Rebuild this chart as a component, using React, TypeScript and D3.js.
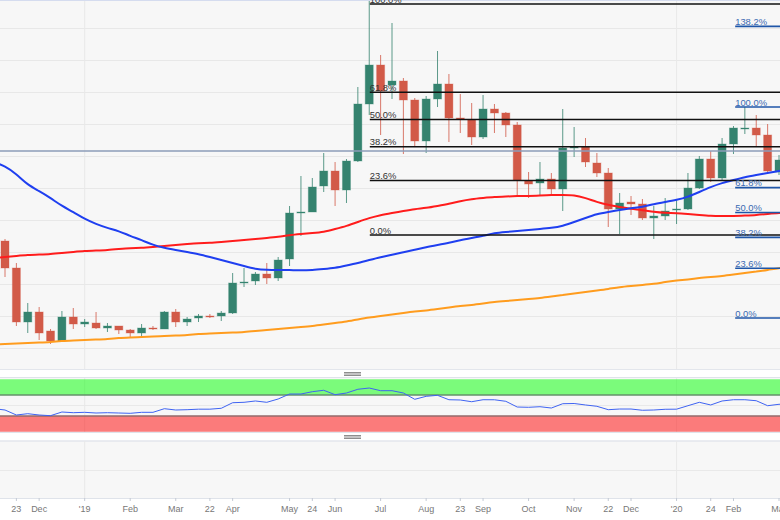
import * as d3 from "d3";

const WIDTH = 780;
const HEIGHT = 520;

// weekly candles, price units are nominal (the reference hides its y axis labels)
const opens = [159, 132, 78, 88, 69, 59, 83, 76, 77, 72, 74, 70, 67, 72, 71, 88, 78, 82, 84, 84, 87, 117, 119, 126, 122, 141, 187, 188, 214, 229, 210, 239, 296, 335, 315, 319, 300, 259, 301, 316, 282, 280, 263, 291, 287, 275, 219, 217, 221, 211, 252, 253, 237, 227, 191, 198, 196, 182, 184, 190, 191, 212, 241, 222, 256, 271, 272, 265, 228];
const closes = [132, 78, 88, 67, 59, 83, 76, 78, 72, 74, 70, 67, 72, 71, 88, 78, 81, 84, 83, 87, 117, 118, 126, 122, 140, 187, 188, 213, 229, 210, 239, 296, 335, 309, 319, 300, 259, 301, 316, 282, 281, 263, 291, 287, 275, 220, 216, 221, 211, 252, 253, 238, 227, 191, 197, 196, 182, 184, 189, 191, 212, 241, 222, 256, 272, 272, 265, 229, 240];
const highs = [161, 137, 97, 93, 71, 89, 92, 81, 88, 77, 74, 71, 76, 74, 89, 91, 83, 86, 86, 89, 127, 132, 128, 137, 143, 194, 224, 222, 247, 238, 241, 313, 399, 345, 377, 322, 302, 304, 349, 326, 306, 297, 305, 296, 288, 278, 228, 238, 227, 291, 273, 262, 247, 232, 207, 204, 201, 194, 202, 200, 227, 244, 249, 262, 274, 293, 285, 276, 245];
const lows = [123, 74, 67, 60, 56, 59, 71, 73, 71, 68, 66, 63, 63, 70, 71, 73, 74, 78, 82, 79, 86, 113, 115, 116, 119, 134, 164, 188, 208, 194, 197, 238, 285, 265, 301, 246, 253, 247, 293, 258, 267, 255, 261, 267, 263, 204, 202, 205, 206, 189, 243, 233, 223, 173, 166, 185, 180, 161, 180, 176, 190, 211, 218, 220, 246, 266, 254, 227, 225];

// moving averages and rsi, one reading per week; each starts one week before the
// first candle and ends one week after the last so the lines run off both edges
const sma50 = [238, 234, 226, 215, 209, 202, 194, 188, 181, 176, 172, 169, 164, 160, 155, 152, 150, 148, 146, 143, 140, 137, 134, 131, 130, 130, 130, 129.5, 130, 131, 132, 134.5, 137, 140, 143, 145, 148, 150, 153, 155, 157, 160, 162, 164, 167, 168, 169, 170, 171, 172, 174, 178, 182, 186, 188, 190, 192, 193, 196, 198, 200, 203, 208, 213, 217, 220, 223, 225, 227, 229, 231];
const sma100 = [142, 143, 144, 145, 145.5, 146, 147, 148, 149, 149.5, 150, 151, 152, 152, 153, 154, 155, 156, 157, 157, 158, 159, 160, 161, 162, 163, 165, 166, 167, 168, 171, 174, 178, 182, 185, 187, 189, 191, 192, 194, 196, 199, 201, 202, 203, 203.5, 204, 204, 204.5, 205, 205, 205, 202, 198, 195, 193, 191, 190, 188, 187, 187, 186, 185, 184, 184, 184, 184.5, 185, 186, 187, 187.5];
const sma200 = [55.5, 56, 56.5, 57, 57.5, 58, 59, 59.5, 60, 60.5, 61, 62, 62.5, 63, 63.5, 64, 64.5, 65, 66, 66.5, 67, 67.5, 68, 69, 70, 71, 72, 73, 74, 75.5, 77, 78.5, 80.5, 82.5, 84, 85.5, 87, 88.5, 89.5, 91, 92.5, 94, 95, 96.5, 98, 99, 100, 101, 102, 103.5, 105, 106.5, 108, 109.5, 111, 113, 114, 115, 116, 118, 119.5, 120.5, 122, 123, 124, 125.5, 127, 128.5, 130, 132, 133];
const rsi = [44, 41.4, 31.9, 34.4, 31.9, 30.6, 37.6, 36.3, 37, 35.7, 36.3, 35.7, 35.1, 37, 37, 43.9, 41.4, 42, 43, 43, 44.7, 55.3, 56.1, 58.6, 56.1, 62.4, 71.9, 71.9, 76.3, 79, 70.6, 73.8, 80.9, 83.3, 78.2, 78.2, 73.8, 61.8, 67.5, 69.4, 61, 60.5, 57.2, 61, 60.9, 58, 47.1, 46.6, 47.7, 45.2, 53.4, 53.8, 51, 48.5, 42, 43.3, 43.3, 40.9, 41.4, 42.8, 43, 49.6, 56.1, 51, 58.6, 61, 61, 59.1, 49.6, 52.3, 52.5];

const gridPrices = [52, 84, 116, 148, 180, 212, 244, 276, 308, 340, 372];
const lastPrice = 249;

const tickIndex = [1, 3, 7, 11, 15, 18, 20, 25, 27, 29, 33, 37, 40, 42, 46, 50, 53, 55, 59, 62, 64, 68];
const tickLabels = ["23", "Dec", "'19", "Feb", "Mar", "22", "Apr", "May", "24", "Jun", "Jul", "Aug", "23", "Sep", "Oct", "Nov", "22", "Dec", "'20", "24", "Feb", "Mar"];
const yearIndex = [7, 59];

// fibonacci sets: swing low, swing high and the week they start on
const fibLeft = { low: 165, high: 396, ratios: [1, 0.618, 0.5, 0.382, 0.236, 0], startIndex: 32.05 };
const fibRight = { low: 82, high: 293, ratios: [1.382, 1, 0.618, 0.5, 0.382, 0.236, 0], startIndex: 64.15 };

const UP = "#35836f";
const DOWN = "#d25a48";
const FONT = "'Liberation Sans', Arial, sans-serif";

const x = d3.scaleLinear().domain([0, 68]).range([5, 779]);
const y = d3.scaleLinear().domain([0, 400]).range([400, 0]);
const yRsi = d3.scaleLinear().domain([0, 100]).range([431.75, 379.25]);

const priceLine = d3
  .line<number>()
  .x((_, i) => x(i - 1))
  .y((d) => y(d))
  .curve(d3.curveBasis);

const rsiLine = d3
  .line<number>()
  .x((_, i) => x(i - 1))
  .y((d) => yRsi(d));

function FibSet({ set, color, label }: { set: typeof fibLeft; color: string; label: string }) {
  const left = x(set.startIndex);
  return (
    <g>
      {set.ratios.map((r) => {
        const py = y(set.low + (set.high - set.low) * r);
        return (
          <g key={r}>
            <line x1={left} x2={WIDTH} y1={py} y2={py} stroke={color} strokeWidth={1.6} />
            <text x={left} y={py - 1.5} fontSize={9.4} fill={label} fontFamily={FONT}>
              {(r * 100).toFixed(1)}%
            </text>
          </g>
        );
      })}
    </g>
  );
}

function Handle({ top }: { top: number }) {
  return (
    <g>
      <rect x={344} y={top} width={17} height={4} fill="#c4c4c4" />
      <line x1={344} x2={361} y1={top + 0.5} y2={top + 0.5} stroke="#8e8e8e" />
      <line x1={344} x2={361} y1={top + 3.5} y2={top + 3.5} stroke="#8e8e8e" />
    </g>
  );
}

export default function App() {
  return (
    <svg
      width={WIDTH}
      height={HEIGHT}
      style={{ position: "absolute", left: 0, top: 0, display: "block", background: "#fff" }}
    >
      {/* panels */}
      <rect x={0} y={0} width={WIDTH} height={370} fill="#f7f7f7" />
      <line x1={0} x2={WIDTH} y1={0.5} y2={0.5} stroke="#d5dcef" />
      <line x1={0} x2={WIDTH} y1={369.5} y2={369.5} stroke="#e3e6ec" />
      <rect x={0} y={378} width={WIDTH} height={55} fill="#f7f7f7" />
      <line x1={0} x2={WIDTH} y1={377.5} y2={377.5} stroke="#dfe3ea" />
      <rect x={0} y={441} width={WIDTH} height={57} fill="#f7f7f7" />
      <line x1={0} x2={WIDTH} y1={441} y2={441} stroke="#e3e6ec" strokeWidth={1.5} />
      <line x1={0} x2={WIDTH} y1={498.5} y2={498.5} stroke="#dfe3ea" />
      <line x1={0} x2={WIDTH} y1={470.5} y2={470.5} stroke="#e9e9e9" />
      <line x1={0} x2={WIDTH} y1={405.5} y2={405.5} stroke="#e9e9e9" />

      {/* grid */}
      {gridPrices.map((p) => (
        <line key={p} x1={0} x2={WIDTH} y1={y(p) + 0.5} y2={y(p) + 0.5} stroke="#e8e8e8" />
      ))}
      {yearIndex.map((i) => (
        <g key={i}>
          <line x1={x(i)} x2={x(i)} y1={1} y2={369} stroke="#e9e9e9" />
          <line x1={x(i)} x2={x(i)} y1={378} y2={432} stroke="#e9e9e9" />
          <line x1={x(i)} x2={x(i)} y1={441} y2={498} stroke="#e9e9e9" />
        </g>
      ))}

      {/* candles */}
      {opens.map((o, i) => {
        const c = closes[i];
        const color = c >= o ? UP : DOWN;
        const top = y(Math.max(o, c));
        const bottom = y(Math.min(o, c));
        return (
          <g key={i}>
            <line x1={x(i)} x2={x(i)} y1={y(highs[i])} y2={y(lows[i])} stroke={color} strokeWidth={1} opacity={0.8} />
            <rect
              x={x(i) - 4}
              y={top}
              width={8}
              height={Math.max(bottom - top, 1)}
              fill={color}
              stroke={color}
              strokeOpacity={0.35}
              strokeWidth={1}
            />
          </g>
        );
      })}

      {/* averages */}
      <path d={priceLine(sma200) || ""} fill="none" stroke="#ff9c1e" strokeWidth={2} />
      <path d={priceLine(sma100) || ""} fill="none" stroke="#ff1c1c" strokeWidth={2} />
      <path d={priceLine(sma50) || ""} fill="none" stroke="#1f3ff0" strokeWidth={2} />

      <line x1={0} x2={WIDTH} y1={y(lastPrice)} y2={y(lastPrice)} stroke="#8c9db8" strokeWidth={1.3} />

      <FibSet set={fibLeft} color="#111" label="#333" />
      <FibSet set={fibRight} color="#1f56a8" label="#3a6ab2" />

      {/* RSI */}
      <rect x={0} y={yRsi(100)} width={WIDTH} height={yRsi(70) - yRsi(100)} fill="#00ff00" fillOpacity={0.5} />
      <rect x={0} y={yRsi(30)} width={WIDTH} height={yRsi(0) - yRsi(30)} fill="#ff0000" fillOpacity={0.5} />
      <line x1={0} x2={WIDTH} y1={yRsi(70)} y2={yRsi(70)} stroke="#64906a" strokeWidth={1.3} />
      <line x1={0} x2={WIDTH} y1={yRsi(30)} y2={yRsi(30)} stroke="#936a6a" strokeWidth={1.3} />
      <line x1={0} x2={WIDTH} y1={432.5} y2={432.5} stroke="#dfe3ea" />
      <path d={rsiLine(rsi) || ""} fill="none" stroke="#3f63f2" strokeWidth={1} />

      <Handle top={372} />
      <Handle top={435} />

      {/* date axis */}
      {tickIndex.map((t, k) => (
        <g key={k}>
          <line x1={x(t)} x2={x(t)} y1={498} y2={501} stroke="#c4cad4" />
          <text x={x(t)} y={512} textAnchor="middle" fontSize={9} fill="#777" fontFamily={FONT}>
            {tickLabels[k]}
          </text>
        </g>
      ))}
    </svg>
  );
}
